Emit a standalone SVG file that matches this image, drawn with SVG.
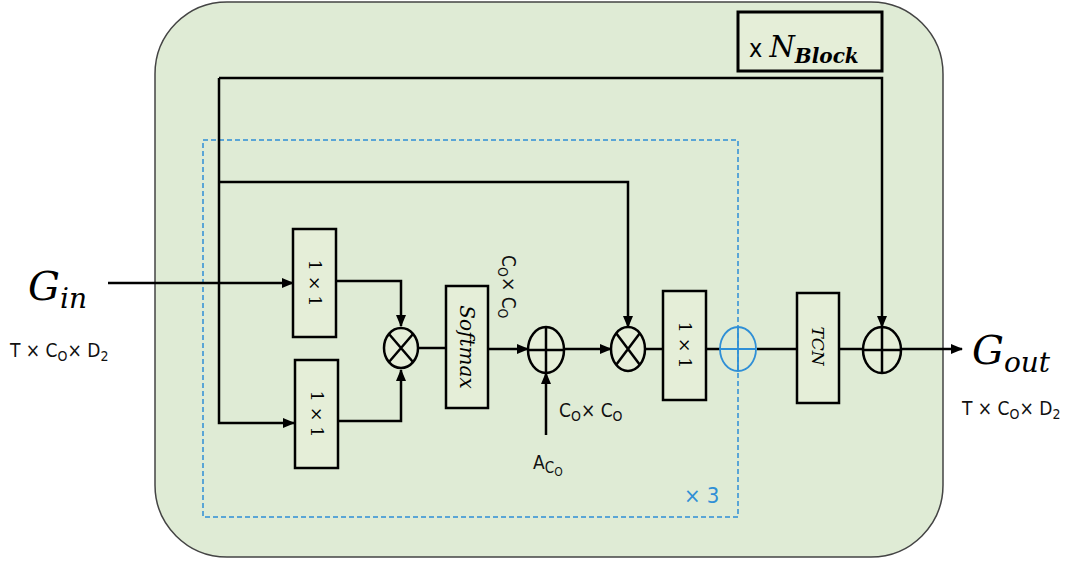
<svg xmlns="http://www.w3.org/2000/svg" width="1072" height="563" viewBox="0 0 1072 563">
<defs>
<marker id="ah" markerUnits="userSpaceOnUse" markerWidth="12" markerHeight="10" refX="11" refY="5" orient="auto">
<path d="M0,0 L12,5 L0,10 Z" fill="#000"/>
</marker>
<style>
.box{fill:#e5eed8;stroke:#000;stroke-width:2.5}
.ln{fill:none;stroke:#000;stroke-width:2.5}
.op{fill:#e5eed8;stroke:#000;stroke-width:2.5}
.bop{fill:none;stroke:#2f8fd6;stroke-width:1.8}
.bt{font-family:"DejaVu Serif","Liberation Serif",serif;font-size:17px;fill:#000}
.math{font-family:"DejaVu Serif","Liberation Serif",serif;font-style:italic;fill:#000}
.dim{font-family:"DejaVu Sans Condensed","DejaVu Sans",sans-serif;font-size:19px;fill:#111}
</style>
</defs>
<rect width="1072" height="563" fill="#fff"/>
<g id="frame">
<rect x="155" y="2" width="788" height="555" rx="72" ry="72" fill="#dfebd5" stroke="#444" stroke-width="1.5"/>
</g>
<g id="repeat-region">
<rect x="203" y="140" width="535" height="377" fill="none" stroke="#2f8fd6" stroke-width="1.5" stroke-dasharray="5,3"/>
<text x="684" y="503" font-family="DejaVu Sans Condensed, DejaVu Sans, sans-serif" font-size="22" fill="#2f8fd6">× 3</text>
</g>
<g id="nblock">
<rect x="738" y="12" width="144" height="59" fill="#e5eed8" stroke="#000" stroke-width="3"/>
<text x="749" y="57" font-family="DejaVu Sans Condensed, DejaVu Sans, sans-serif" font-size="25" fill="#000">x <tspan class="math" font-size="29">N</tspan><tspan class="math" font-size="20" font-weight="bold" dy="6">Block</tspan></text>
</g>
<g id="connectors">
<path class="ln" d="M108,283 H293" marker-end="url(#ah)"/>
<path class="ln" d="M219,78 V423 H294" marker-end="url(#ah)"/>
<path class="ln" d="M219,78 H882 V327" marker-end="url(#ah)"/>
<path class="ln" d="M219,182 H628 V327" marker-end="url(#ah)"/>
<path class="ln" d="M336,281 H401 V326" marker-end="url(#ah)"/>
<path class="ln" d="M338,421 H401 V370" marker-end="url(#ah)"/>
<path class="ln" d="M418,348 H446"/>
<path class="ln" d="M488,349 H528" marker-end="url(#ah)"/>
<path class="ln" d="M546,435 V373" marker-end="url(#ah)"/>
<path class="ln" d="M564,349 H611" marker-end="url(#ah)"/>
<path class="ln" d="M645,349 H663"/>
<path class="ln" d="M706,349 H720"/>
<path class="ln" d="M757,349 H797"/>
<path class="ln" d="M839,349 H863"/>
<path class="ln" d="M901,349 H962" marker-end="url(#ah)"/>
</g>
<g id="gin">
<text x="28" y="300" font-family="DejaVu Serif, Liberation Serif, serif" font-style="italic" font-size="40">G<tspan font-size="28" dy="8">in</tspan></text>
<text x="10" y="357" class="dim">T × C<tspan font-size="14" dy="4">O</tspan><tspan dy="-4">× D</tspan><tspan font-size="14" dy="4">2</tspan></text>
</g>
<g id="conv-top">
<rect class="box" x="293" y="229" width="43" height="108"/>
<text class="bt" transform="translate(314.5,283) rotate(90)" text-anchor="middle" dy="6">1 × 1</text>
</g>
<g id="conv-bottom">
<rect class="box" x="295" y="360" width="43" height="108"/>
<text class="bt" transform="translate(316.5,414) rotate(90)" text-anchor="middle" dy="6">1 × 1</text>
</g>
<g id="mul1">
<ellipse class="op" cx="401" cy="348" rx="17" ry="20"/>
<path class="ln" d="M389,334 L413,362 M413,334 L389,362"/>
</g>
<g id="softmax">
<rect class="box" x="446" y="286" width="42" height="122"/>
<text class="math" font-size="20" transform="translate(467,347) rotate(90)" text-anchor="middle" dy="7">Softmax</text>
<text class="dim" transform="translate(508,255) rotate(90)" dy="6">C<tspan font-size="14" dy="4">O</tspan><tspan dy="-4">× C</tspan><tspan font-size="14" dy="4">O</tspan></text>
</g>
<g id="add1">
<ellipse class="op" cx="546" cy="350" rx="18" ry="23"/>
<path class="ln" d="M528,350 H564 M546,327 V373"/>
<text x="559" y="417" class="dim">C<tspan font-size="14" dy="4">O</tspan><tspan dy="-4">× C</tspan><tspan font-size="14" dy="4">O</tspan></text>
<text x="533" y="469" class="dim">A<tspan font-size="15" dy="4">C</tspan><tspan font-size="12" dy="3">O</tspan></text>
</g>
<g id="mul2">
<ellipse class="op" cx="628" cy="349" rx="17" ry="22"/>
<path class="ln" d="M616,333 L640,365 M640,333 L616,365"/>
</g>
<g id="conv-out">
<rect class="box" x="663" y="291" width="43" height="109"/>
<text class="bt" transform="translate(684.5,345) rotate(90)" text-anchor="middle" dy="6">1 × 1</text>
</g>
<g id="add-blue">
<ellipse class="bop" cx="738" cy="349" rx="18" ry="22"/>
<path class="bop" d="M720,349 H756 M738,327 V371"/>
</g>
<g id="tcn">
<rect class="box" x="797" y="293" width="42" height="110"/>
<text class="math" font-size="17" transform="translate(818,346) rotate(90)" text-anchor="middle" dy="6">TCN</text>
</g>
<g id="add-out">
<ellipse class="op" cx="882" cy="350" rx="19" ry="23"/>
<path class="ln" d="M863,350 H901 M882,327 V373"/>
</g>
<g id="gout">
<text x="972" y="364" font-family="DejaVu Serif, Liberation Serif, serif" font-style="italic" font-size="40">G<tspan font-size="28" dy="8">out</tspan></text>
<text x="962" y="415" class="dim">T × C<tspan font-size="14" dy="4">O</tspan><tspan dy="-4">× D</tspan><tspan font-size="14" dy="4">2</tspan></text>
</g>
</svg>
